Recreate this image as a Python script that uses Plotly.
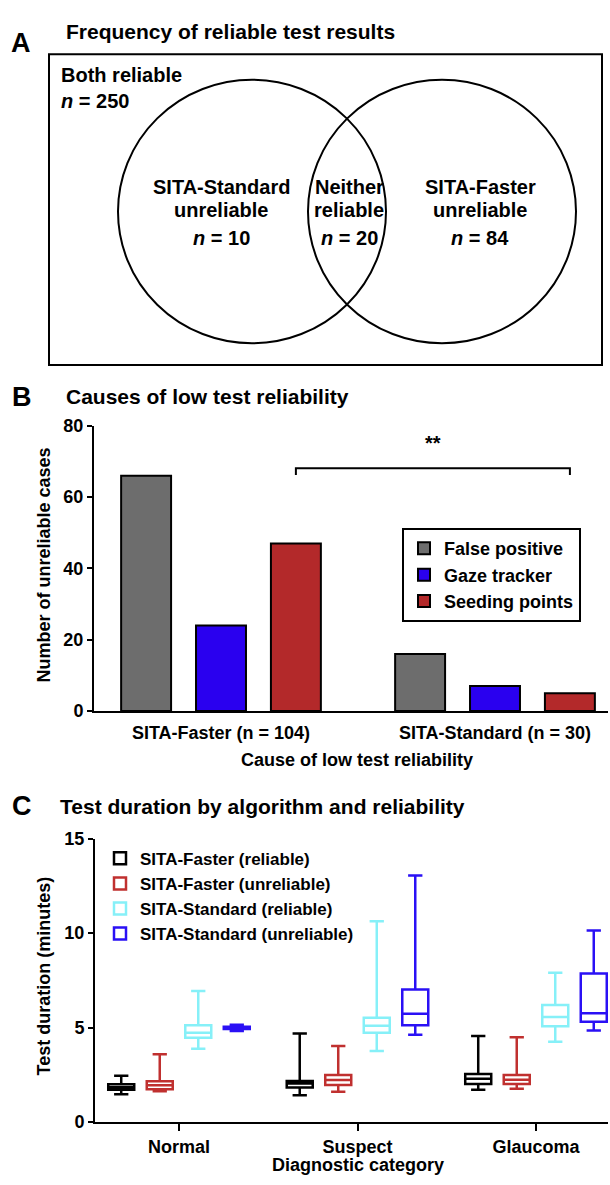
import plotly.graph_objects as go

W, H = 610, 1185
FONT = "Liberation Sans, Arial, Helvetica, sans-serif"

# ---------------- Data ----------------
# Panel A: Venn counts
venn_labels = ["Both reliable", "SITA-Standard<br>unreliable", "Neither<br>reliable", "SITA-Faster<br>unreliable"]
venn_counts = [250, 10, 20, 84]

# Panel B: causes of low reliability
b_groups = ["SITA-Faster (n = 104)", "SITA-Standard (n = 30)"]
b_series = ["False positive", "Gaze tracker", "Seeding points"]
b_false_positive = [66, 16]
b_gaze_tracker = [24, 7]
b_seeding_points = [47, 5]
b_colors = ["#6d6d6d", "#2a00ef", "#b3292a"]

# Panel C: test duration box statistics (minutes)
c_categories = ["Normal", "Suspect", "Glaucoma"]
c_series = ["SITA-Faster (reliable)", "SITA-Faster (unreliable)",
            "SITA-Standard (reliable)", "SITA-Standard (unreliable)"]
c_colors = ["#000000", "#c0302f", "#86f0f8", "#2a10f5"]
c_low = [[1.46, 1.41, 1.70], [1.63, 1.60, 1.76], [3.87, 3.75, 4.25], [4.82, 4.62, 4.84]]
c_q1 = [[1.70, 1.82, 2.01], [1.73, 1.96, 2.01], [4.46, 4.72, 5.07], [4.92, 5.12, 5.30]]
c_med = [[1.84, 2.03, 2.29], [1.94, 2.22, 2.24], [4.72, 5.09, 5.56], [4.98, 5.73, 5.76]]
c_q3 = [[2.00, 2.17, 2.54], [2.15, 2.48, 2.48], [5.12, 5.52, 6.20], [5.04, 7.01, 7.86]]
c_high = [[2.45, 4.69, 4.55], [3.59, 4.02, 4.48], [6.94, 10.63, 7.90], [5.15, 13.06, 10.14]]


def px(x):
    return x / W


def py(y):
    return 1 - y / H


fig = go.Figure()

# ---------------- Panel B bars ----------------
b_values = [b_false_positive, b_gaze_tracker, b_seeding_points]
for name, vals, col in zip(b_series, b_values, b_colors):
    fig.add_trace(go.Bar(
        x=b_groups, y=vals, name=name, marker=dict(color=col, line=dict(color="black", width=2)),
        xaxis="x", yaxis="y", legend="legend", legendgroup=name, showlegend=True,
        hoverinfo="skip"))

# ---------------- Panel C boxes ----------------
for i, name in enumerate(c_series):
    fig.add_trace(go.Box(
        x=c_categories, q1=c_q1[i], median=c_med[i], q3=c_q3[i],
        lowerfence=c_low[i], upperfence=c_high[i], name=name,
        line=dict(color=c_colors[i], width=2.5), fillcolor="rgba(255,255,255,1)",
        whiskerwidth=0.55, boxpoints=False, xaxis="x2", yaxis="y2",
        legend="legend2", legendgroup=name, hoverinfo="skip"))

bargap = 0.18
slot = (1 - bargap) / 3

axis_common = dict(showgrid=False, zeroline=False, showline=True, linecolor="black",
                   linewidth=2, tickcolor="black", tickwidth=2,
                   tickfont=dict(family=FONT, size=18, color="black", weight="bold"))

fig.update_layout(
    width=W, height=H, margin=dict(l=0, r=0, t=0, b=0), autosize=False,
    paper_bgcolor="white", plot_bgcolor="white",
    font=dict(family=FONT, color="black", weight="bold"),
    barmode="group", bargap=bargap, bargroupgap=0.333,
    boxmode="group", boxgap=0.137, boxgroupgap=0.325,
    xaxis=dict(domain=[px(94), px(608)], anchor="y", type="category",
               range=[-0.4635, 1.4124], ticks="", ticklabelstandoff=4, **axis_common),
    yaxis=dict(domain=[py(713), py(423)], anchor="x", range=[0, 80],
               tickvals=[0, 20, 40, 60, 80], ticks="outside", ticklen=5, **axis_common),
    xaxis2=dict(domain=[px(95), px(608)], anchor="y2", type="category",
                range=[-0.4706, 2.4034], ticks="outside", ticklen=7, **axis_common),
    yaxis2=dict(domain=[py(1131), py(843)], anchor="x2", range=[0, 15],
                tickvals=[0, 5, 10, 15], ticks="outside", ticklen=5, **axis_common),
    legend=dict(x=px(402), y=py(527), xanchor="left", yanchor="top",
                bordercolor="black", borderwidth=2, bgcolor="white",
                font=dict(family=FONT, size=18, color="black", weight="bold"),
                tracegroupgap=3, traceorder="normal"),
    legend2=dict(x=px(100), y=py(845), xanchor="left", yanchor="top",
                 borderwidth=0, bgcolor="rgba(0,0,0,0)",
                 font=dict(family=FONT, size=17, color="black", weight="bold"),
                 tracegroupgap=2, traceorder="normal"),
)

shapes = []
annos = []


def text(x, y, s, size, xanchor="center", yanchor="middle", angle=0):
    annos.append(dict(x=px(x), y=py(y), xref="paper", yref="paper", text=s, showarrow=False,
                      xanchor=xanchor, yanchor=yanchor, textangle=angle,
                      font=dict(family=FONT, size=size, color="black", weight="bold")))


# ---------------- Panel A ----------------
text(21, 34, "A", 27)
text(64, 22, "Frequency of reliable test results", 21, xanchor="left")
shapes.append(dict(type="rect", xref="paper", yref="paper", x0=px(49), x1=px(602), y0=py(45), y1=py(361),
                   line=dict(color="black", width=2)))
R = 134
for cx in (252, 442):
    shapes.append(dict(type="circle", xref="paper", yref="paper", x0=px(cx - R), x1=px(cx + R),
                       y0=py(205 - R), y1=py(205 + R), line=dict(color="black", width=2)))

text(59, 66, venn_labels[0], 20, xanchor="left")
text(59, 93, f"<i>n</i> = {venn_counts[0]}", 20, xanchor="left")
for (cx, lab, cnt) in zip((221, 349, 480), venn_labels[1:], venn_counts[1:]):
    l1, l2 = lab.split("<br>")
    text(cx, 180, l1, 20)
    text(cx, 203, l2, 20)
    text(cx, 232, f"<i>n</i> = {cnt}", 20)

# ---------------- Panel B ----------------
text(22, 394, "B", 27)
text(64, 393, "Causes of low test reliability", 21, xanchor="left")
text(44, 565, "Number of unreliable cases", 18, angle=-90)
text(357, 763, "Cause of low test reliability", 18)
# significance bracket between the two "Seeding points" bars
bx0, bx1 = 0 + slot, 1 + slot
shapes.append(dict(type="path", xref="x", yref="y",
                   path=f"M {bx0},66.2 L {bx0},68.1 L {bx1},68.1 L {bx1},66.2",
                   line=dict(color="black", width=2)))
annos.append(dict(x=(bx0 + bx1) / 2, y=75.3, xref="x", yref="y", text="**", showarrow=False,
                  font=dict(family=FONT, size=20, color="black", weight="bold")))

# ---------------- Panel C ----------------
text(22, 810, "C", 27)
text(58, 810, "Test duration by algorithm and reliability", 21, xanchor="left")
text(44, 983, "Test duration (minutes)", 18, angle=-90)
text(358, 1175, "Diagnostic category", 18)

fig.update_layout(shapes=shapes, annotations=annos)
fig.write_html("out.html")
